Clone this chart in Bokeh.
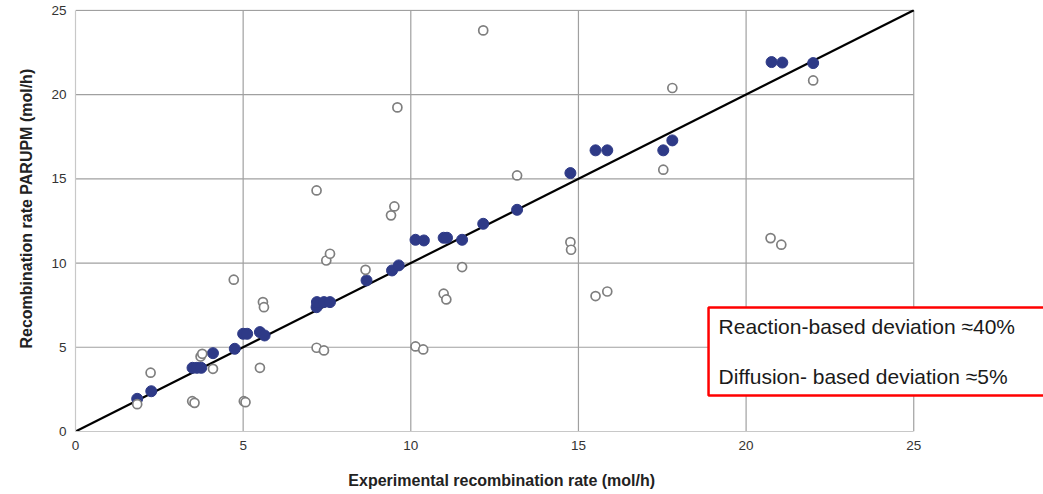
import math
from bokeh.plotting import figure
from bokeh.models import Range1d, FixedTicker, Label, Title
from bokeh.embed import file_html
from bokeh.resources import INLINE

# ---- data ----
diff_x = [1.84, 2.26, 3.49, 3.62, 3.75, 4.10, 4.75, 5.00, 5.12, 5.50, 5.64,
          7.19, 7.20, 7.41, 7.59, 8.68, 9.44, 9.64, 10.14, 10.39, 10.98, 11.08,
          11.53, 12.16, 13.17, 14.76, 15.51, 15.86, 17.53, 17.80, 20.76, 21.08, 22.00]
diff_y = [1.94, 2.39, 3.78, 3.78, 3.78, 4.65, 4.91, 5.80, 5.80, 5.90, 5.70,
          7.38, 7.68, 7.68, 7.68, 8.97, 9.56, 9.86, 11.38, 11.34, 11.50, 11.50,
          11.38, 12.33, 13.16, 15.34, 16.69, 16.69, 16.69, 17.28, 21.93, 21.90, 21.87]

react_x = [1.84, 2.24, 3.48, 3.55, 3.73, 3.78, 4.10, 4.72, 5.02, 5.07, 5.50,
           5.59, 5.62, 7.19, 7.41, 7.48, 7.59, 7.19, 8.65, 9.41, 9.51, 9.60,
           10.14, 10.37, 10.98, 11.06, 11.53, 12.16, 13.17, 14.76, 14.78, 15.51,
           15.86, 17.53, 17.80, 20.73, 21.05, 22.00]
react_y = [1.62, 3.49, 1.80, 1.70, 4.45, 4.61, 3.72, 9.01, 1.80, 1.74, 3.78,
           7.68, 7.38, 4.97, 4.81, 10.15, 10.55, 14.31, 9.60, 12.83, 13.36, 19.24,
           5.05, 4.87, 8.18, 7.84, 9.76, 23.81, 15.20, 11.24, 10.79, 8.04,
           8.31, 15.54, 20.39, 11.48, 11.09, 20.84]

axis_ticks = [0, 5, 10, 15, 20, 25]
axis_max = 25
x_title = "Experimental recombination rate (mol/h)"
y_title = "Recombination rate PARUPM (mol/h)"
note_lines = ["Reaction-based deviation \u224840%", "Diffusion- based deviation \u22485%"]

FONT = "Liberation Sans"

p = figure(width=1043, height=494, output_backend="svg", toolbar_location=None,
           x_range=Range1d(0, 28.87), y_range=Range1d(0, 25.05),
           min_border_left=75, min_border_right=0, min_border_top=9,
           min_border_bottom=63)
p.outline_line_color = None
p.background_fill_color = "white"
p.border_fill_color = "white"
p.xgrid.visible = False
p.ygrid.visible = False

grid_vals = axis_ticks[1:]
p.segment(x0=grid_vals, x1=grid_vals, y0=[0] * len(grid_vals), y1=[axis_max] * len(grid_vals),
          line_color="#a0a0a0", line_width=1.2)
p.segment(x0=[0] * len(grid_vals), x1=[axis_max] * len(grid_vals), y0=grid_vals, y1=grid_vals,
          line_color="#a0a0a0", line_width=1.2)

for ax in (p.xaxis[0], p.yaxis[0]):
    ax.ticker = FixedTicker(ticks=axis_ticks)
    ax.bounds = (0, axis_max)
    ax.axis_line_color = "#c8c8c8"
    ax.axis_line_width = 1.2
    ax.major_tick_out = 0
    ax.major_tick_in = 0
    ax.minor_tick_out = 0
    ax.minor_tick_in = 0
    ax.major_label_text_font = FONT
    ax.major_label_text_font_size = "13.5px"
    ax.major_label_text_color = "#333333"
    ax.major_label_standoff = 9

# x axis title; the plot frame runs past the axis (for the note box),
# so trailing no-break spaces move the centred title back over the axis
p.xaxis.axis_label = x_title + "\u00a0" * 26
p.xaxis.axis_label_text_font = FONT
p.xaxis.axis_label_text_font_size = "16px"
p.xaxis.axis_label_text_font_style = "bold"
p.xaxis.axis_label_text_color = "#222222"
p.xaxis.axis_label_standoff = 19

# identity line
p.line([0, axis_max], [0, axis_max], line_color="black", line_width=2.2)

p.scatter(diff_x, diff_y, size=11, fill_color="#2e3a87", line_color="#2e3a87", line_width=1)
p.scatter(react_x, react_y, size=9, fill_color="white", line_color="#7f7f7f", line_width=1.7)

# note box
p.quad(left=[18.88], right=[30], bottom=[2.14], top=[7.36], fill_color="white",
       line_color="#ff0000", line_width=2.5)
p.add_layout(Label(x=19.18, y=6.24, text=note_lines[0], text_font=FONT, text_font_size="21px",
                   text_color="#1a1a1a", text_align="left", text_baseline="middle"))
p.add_layout(Label(x=19.18, y=3.27, text=note_lines[1], text_font=FONT, text_font_size="21px",
                   text_color="#1a1a1a", text_align="left", text_baseline="middle"))

# y axis title
yt = Title(text=y_title, align="left", offset=83, text_font=FONT, text_font_size="16px",
           text_font_style="bold", text_color="#222222", standoff=28)
p.add_layout(yt, "left")

open("out.html", "w").write(file_html(p, INLINE))
